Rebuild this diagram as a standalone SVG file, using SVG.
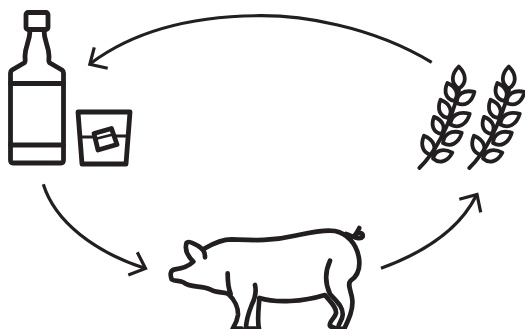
<svg xmlns="http://www.w3.org/2000/svg" xmlns:xlink="http://www.w3.org/1999/xlink" width="525" height="329" viewBox="0 0 525 329">
<style>
.l{fill:none;stroke:#231f20;stroke-linecap:round;stroke-linejoin:round}
.t{stroke-width:4.8}.m{stroke-width:3.8}.a{stroke-width:3.2;stroke-linecap:butt;stroke-linejoin:miter}.w{stroke-width:2.8}
.p{stroke-width:14}
.f{vector-effect:non-scaling-stroke}
</style>
<defs>
<path id="leaf" class="f" d="M0,0C-8,-5 -8,-14 0,-22C8,-14 8,-5 0,0Z"/>
<g id="wheat" class="l m">
<path d="M419.3,168C433,155 450,127 459,90"/>
<use href="#leaf" xlink:href="#leaf" transform="translate(458.8 88.5) scale(1)"/>
<use href="#leaf" xlink:href="#leaf" transform="translate(454.3 101) rotate(-21) scale(.88)"/>
<use href="#leaf" xlink:href="#leaf" transform="translate(448.3 118) rotate(-23) scale(.9)"/>
<use href="#leaf" xlink:href="#leaf" transform="translate(441.5 134) rotate(-23.600) scale(.85)"/>
<use href="#leaf" xlink:href="#leaf" transform="translate(432 155) rotate(-22.600) scale(.95)"/>
<use href="#leaf" xlink:href="#leaf" transform="translate(456.7 103) rotate(58) scale(.95)"/>
<use href="#leaf" xlink:href="#leaf" transform="translate(450.5 124.5) rotate(61) scale(1)"/>
<use href="#leaf" xlink:href="#leaf" transform="translate(443 143) rotate(61.500) scale(.97)"/>
<use href="#leaf" xlink:href="#leaf" transform="translate(433 158.5) rotate(73) scale(.92)"/>
</g>
</defs>
<g id="connectors" class="l a">
<path d="M431.700,62.300C370,25 300,15.500 260,15.700C195,16 135,30 90.500,63.500"/>
<path d="M94.300,47.300L89.800,64.300L107.700,68.300"/>
<path d="M43.300,184.300C55,222 95,252 144,268"/>
<path d="M137.300,252.300L145.500,268.500L128.300,275"/>
<path d="M381,268.300C420,254 458,232 476,196"/>
<path d="M459.300,199.300L477,194.500L480.700,212.300"/>
</g>
<g id="bottle" class="l t">
<rect x="26" y="12.500" width="22" height="17" rx="2"/>
<path d="M30,30C30,42 25,46 25,56C25,60 26,62 24,63L12,70Q10.500,71 10.500,73V160Q10.500,163 13,163H61Q63.500,163 63.500,160V73Q63.500,71 62,70L50,63C48,62 49,60 49,56C49,46 44,42 44,30"/>
<path d="M10.500,83.500H63.500M10.500,145H63.500"/>
</g>
<g id="glass" class="l">
<path class="t" d="M78,112H130L126,164H82Z"/>
<path class="w" d="M80,137H93M116,136H128M95,139L113,134.500"/>
<path class="t" d="M94,133.500L111.500,128.500L117,144.500L98,150Z"/>
</g>
<g id="pig" class="l" transform="translate(160 220) scale(.3333)">
<path class="p" d="M135,85C160,70 185,58 215,58C270,60 330,65 400,48C450,38 490,28 525,33C560,40 590,70 597,115C602,150 590,170 572,182C560,195 575,215 577,240C580,270 565,300 553,326"/>
<path class="p" d="M135,112C135,95 130,88 115,78C100,70 85,62 80,68C72,90 85,110 100,125C85,140 70,145 45,148C30,150 30,165 35,178C45,185 60,180 70,187C90,205 125,195 150,208C170,220 190,215 205,222C225,240 235,265 234,285C232,300 225,315 218,326H245"/>
<path class="p" d="M203,160C203,185 205,205 212,222"/>
<path class="p" d="M285,195C290,215 285,235 275,255C265,280 258,305 258,326H297C291,300 296,265 298,238"/>
<path class="p" d="M298,234C350,250 430,245 495,225C510,245 530,260 528,280C525,295 505,305 510,318C520,325 535,328 553,326"/>
<path class="p" d="M510,122C495,155 495,190 510,222C530,245 550,260 548,285C548,300 535,310 535,322"/>
<path class="p" d="M558,42C575,48 600,62 608,50C612,38 595,35 585,45C590,40 595,30 598,24"/>
</g>
<use id="wheat1" href="#wheat" xlink:href="#wheat"/>
<use id="wheat2" href="#wheat" xlink:href="#wheat" x="50"/>
</svg>
